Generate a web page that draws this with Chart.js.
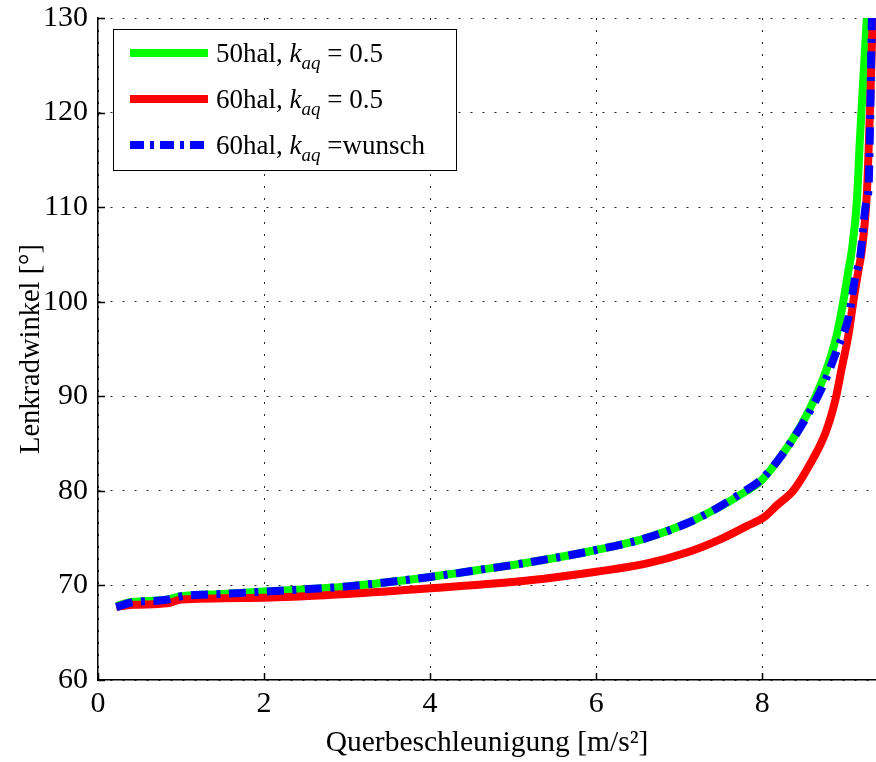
<!DOCTYPE html>
<html>
<head>
<meta charset="utf-8">
<script src="https://cdn.jsdelivr.net/npm/chart.js@4/dist/chart.umd.min.js"></script>
<style>
  html, body { margin: 0; padding: 0; background: #fff; overflow: hidden; }
  #wrap { position: relative; width: 876px; height: 762px; }
  #legende {
    position: absolute; left: 113px; top: 29px; width: 342px; height: 140px;
    border: 1.5px solid #000; background: #fff;
    font-family: "Liberation Serif", serif; font-size: 27px; color: #000;
  }
  #legende .zeile { display: flex; align-items: center; height: 46px; padding-left: 16px; }
  #legende canvas { margin-right: 8px; }
  #legende sub { font-size: 19px; vertical-align: -7px; line-height: 0; }
</style>
</head>
<body>
<div id="wrap">
  <canvas id="kurven" width="876" height="762"></canvas>
  <div id="legende"></div>
</div>
<script>
// Lenkradwinkel ueber Querbeschleunigung
const xGruen = [0.22, 0.4, 0.8, 1.0, 1.5, 2.0, 3.0, 4.0, 4.6, 5.2, 6.0, 6.6, 7.1, 7.4, 7.7, 8.0, 8.22, 8.46, 8.66, 8.8, 8.9, 8.98, 9.04, 9.08, 9.14, 9.18, 9.22, 9.26];
const yGruen = [67.8, 68.25, 68.45, 68.85, 69.1, 69.35, 69.9, 70.9, 71.65, 72.45, 73.75, 75.0, 76.6, 77.9, 79.4, 81.2, 83.6, 86.8, 90.3, 93.5, 96.6, 100.2, 103.4, 105.5, 110.7, 117.8, 124, 130];

const xRot = [0.22, 0.42, 0.83, 1.0, 2.0, 3.0, 4.0, 5.2, 6.0, 6.6, 7.1, 7.5, 7.82, 8.02, 8.18, 8.38, 8.58, 8.76, 8.88, 8.96, 9.04, 9.1, 9.16, 9.2, 9.26, 9.3, 9.33];
const yRot = [67.75, 67.95, 68.1, 68.5, 68.7, 69.1, 69.7, 70.55, 71.45, 72.3, 73.5, 74.9, 76.3, 77.2, 78.5, 80.1, 82.9, 86.1, 89.6, 93.1, 96.6, 100.2, 103.4, 105.5, 111.5, 121, 130];

const xBlau = [0.22, 0.4, 0.8, 1.0, 1.5, 2.0, 3.0, 4.0, 4.6, 5.2, 6.0, 6.6, 7.1, 7.4, 7.7, 8.0, 8.22, 8.5, 8.74, 8.9, 9.04, 9.12, 9.18, 9.25, 9.28, 9.3, 9.32];
const yBlau = [67.7, 68.2, 68.45, 68.85, 69.1, 69.35, 69.9, 70.9, 71.65, 72.45, 73.75, 75.0, 76.6, 77.9, 79.5, 81.3, 83.6, 87.3, 91.3, 94.9, 98.4, 102.6, 104.8, 110.4, 112, 119.6, 130];

const namen = ['50hal', '60hal', '60hal'];
const kaq = ['0.5', '0.5', 'wunsch'];
const farben = ['#00ff00', '#ff0000', '#0000ff'];
const striche = [[], [], [17, 8.5, 4, 8.5]];
const xTicks = [0, 2, 4, 6, 8];
const yTicks = [60, 70, 80, 90, 100, 110, 120, 130];

function punkte(xs, ys) {
  return xs.map((x, i) => ({ x: x, y: ys[i] }));
}

const serien = [punkte(xGruen, yGruen), punkte(xRot, yRot), punkte(xBlau, yBlau)];

// kleine Striche nach innen an den Achsen
const innenTicks = {
  id: 'innenTicks',
  beforeDatasetsDraw(chart) {
    const { ctx, chartArea: a, scales } = chart;
    ctx.save();
    ctx.strokeStyle = '#000';
    ctx.lineWidth = 1.5;
    ctx.beginPath();
    xTicks.forEach(v => {
      const px = Math.round(scales.x.getPixelForValue(v)) + 0.5;
      ctx.moveTo(px, a.bottom);
      ctx.lineTo(px, a.bottom - 7);
    });
    yTicks.forEach(v => {
      const py = Math.round(scales.y.getPixelForValue(v)) + 0.5;
      ctx.moveTo(a.left, py);
      ctx.lineTo(a.left + 7, py);
    });
    ctx.stroke();
    ctx.restore();
  }
};

Chart.defaults.font.family = '"Liberation Serif", serif';
Chart.defaults.color = '#000';

const chart = new Chart(document.getElementById('kurven'), {
  type: 'scatter',
  data: {
    datasets: serien.map((d, i) => ({
      label: namen[i] + ', k_aq = ' + kaq[i],
      data: d,
      showLine: true,
      borderColor: farben[i],
      backgroundColor: farben[i],
      borderWidth: 8,
      borderDash: striche[i],
      borderCapStyle: 'butt',
      borderJoinStyle: 'round',
      pointRadius: 0,
      cubicInterpolationMode: 'monotone',
      fill: false,
      order: 3 - i
    }))
  },
  options: {
    responsive: false,
    devicePixelRatio: 1,
    animation: false,
    layout: { padding: { top: 18, right: 0, left: 0, bottom: 0 } },
    plugins: { legend: { display: false }, tooltip: { enabled: false } },
    scales: {
      x: {
        type: 'linear',
        min: 0,
        max: 9.37,
        afterFit: s => { s.height = 82; s.paddingLeft = 0; s.paddingRight = 0; },
        afterBuildTicks: s => { s.ticks = xTicks.map(v => ({ value: v })); },
        ticks: { font: { size: 30 }, padding: 6, includeBounds: false },
        grid: { color: '#222', lineWidth: 1, drawTicks: false },
        border: { color: '#000', width: 1.5, dash: [2, 10] },
        title: {
          display: true,
          text: 'Querbeschleunigung [m/s²]',
          font: { size: 29.5 },
          padding: { top: 0, bottom: 1 }
        }
      },
      y: {
        type: 'linear',
        min: 60,
        max: 130,
        afterFit: s => { s.width = 98; s.paddingTop = 0; s.paddingBottom = 0; },
        afterBuildTicks: s => { s.ticks = yTicks.map(v => ({ value: v })); },
        ticks: { font: { size: 30 }, padding: 10 },
        grid: { color: '#222', lineWidth: 1, drawTicks: false },
        border: { color: '#000', width: 1.5, dash: [2, 10] },
        title: {
          display: true,
          text: 'Lenkradwinkel [°]',
          font: { size: 28.5 },
          padding: { top: 14, bottom: 0 }
        }
      }
    }
  },
  plugins: [innenTicks]
});

// Legende mit Index-Schreibweise als HTML
const legende = document.getElementById('legende');
chart.data.datasets.forEach((ds, i) => {
  const zeile = document.createElement('div');
  zeile.className = 'zeile';
  const probe = document.createElement('canvas');
  probe.width = 78;
  probe.height = 12;
  const c = probe.getContext('2d');
  c.strokeStyle = ds.borderColor;
  c.lineWidth = 8;
  c.setLineDash(i === 2 ? [14, 6, 4, 6] : []);
  c.beginPath();
  c.moveTo(0, 6);
  c.lineTo(78, 6);
  c.stroke();
  zeile.appendChild(probe);
  const text = document.createElement('span');
  const gl = isNaN(parseFloat(kaq[i])) ? '\u00a0=' : '\u00a0=\u00a0';
  text.innerHTML = namen[i] + ', <i>k</i><sub><i>aq</i></sub>' + gl + kaq[i];
  zeile.appendChild(text);
  legende.appendChild(zeile);
});
</script>
</body>
</html>
